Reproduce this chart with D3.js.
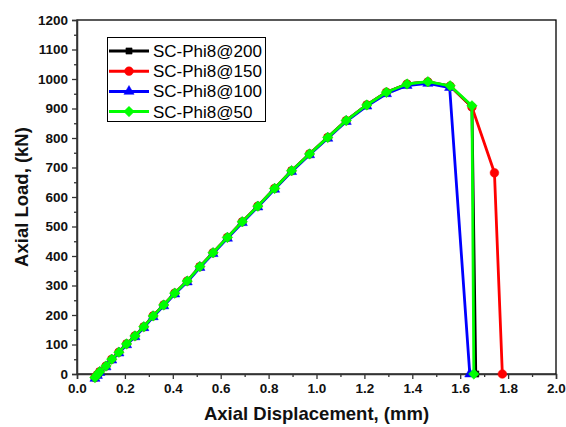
<!DOCTYPE html>
<html><head><meta charset="utf-8">
<script src="https://cdn.jsdelivr.net/npm/d3@7"></script>
<style>body{margin:0;background:#fff}svg{display:block}</style>
</head><body><svg id="c" width="566" height="427"></svg>
<script>
const seriesNames = ["SC-Phi8@200","SC-Phi8@150","SC-Phi8@100","SC-Phi8@50"];
const seriesColors = ["#000000","#ff0000","#0000ff","#00ff00"];
const seriesSymbols = ["square","circle","triangle","diamond"];
const xTicks = [0.0,0.2,0.4,0.6,0.8,1.0,1.2,1.4,1.6,1.8,2.0];
const yTicks = [0,100,200,300,400,500,600,700,800,900,1000,1100,1200];

const disp200 = [0.075,0.085,0.095,0.121,0.145,0.175,0.207,0.242,0.279,0.318,0.362,0.408,0.46,0.513,0.568,0.628,0.69,0.755,0.825,0.896,0.971,1.047,1.124,1.21,1.292,1.378,1.465,1.558,1.649,1.665];
const load200 = [-12,-2,8,27,50,74,102,129,160,197,234,274,315,364,411,463,516,569,629,689,746,802,859,912,955,983,990,976,905,0];
const disp150 = [0.075,0.085,0.095,0.121,0.145,0.175,0.207,0.242,0.279,0.318,0.362,0.408,0.46,0.513,0.568,0.628,0.69,0.755,0.825,0.896,0.971,1.047,1.124,1.21,1.292,1.378,1.465,1.558,1.649,1.743,1.776];
const load150 = [-12,-2,8,27,50,74,102,129,160,197,234,274,315,364,411,463,516,569,629,689,746,802,859,912,955,983,990,976,905,682,0];
const disp100 = [0.075,0.085,0.095,0.121,0.145,0.175,0.207,0.242,0.279,0.318,0.362,0.408,0.46,0.513,0.568,0.628,0.69,0.755,0.825,0.896,0.971,1.047,1.124,1.21,1.292,1.378,1.465,1.556,1.64];
const load100 = [-15,-5,5,24,47,71,99,126,157,194,231,271,312,361,408,460,513,566,626,686,743,799,856,908,950,978,985,971,0];
const disp50 = [0.075,0.085,0.095,0.121,0.145,0.175,0.207,0.242,0.279,0.318,0.362,0.408,0.46,0.513,0.568,0.628,0.69,0.755,0.825,0.896,0.971,1.047,1.124,1.21,1.292,1.378,1.465,1.558,1.649,1.657];
const load50 = [-12,-2,8,27,50,74,102,129,160,197,234,274,315,364,411,463,516,569,629,689,746,802,859,912,955,983,991,977,909,0];

const seriesX = [disp200,disp150,disp100,disp50];
const seriesY = [load200,load150,load100,load50];

const svg = d3.select("#c");
const m = {l:77, r:556, t:20, b:374};
const x = d3.scaleLinear().domain([0,2]).range([m.l,m.r]);
const y = d3.scaleLinear().domain([0,1200]).range([m.b,m.t]);
const axisColor = "#333";
const font = "'Liberation Sans', Arial, sans-serif";

// frame
svg.append("rect").attr("x",m.l).attr("y",m.t).attr("width",m.r-m.l).attr("height",m.b-m.t)
  .attr("fill","none").attr("stroke","#000").attr("stroke-width",1.3);

// minor ticks
const xMinor = d3.range(0.1,2.0,0.2);
const yMinor = d3.range(50,1200,100);
const xAxis = d3.axisBottom(x).tickValues(xTicks).tickFormat(d3.format(".1f")).tickSize(5).tickPadding(4);
const yAxis = d3.axisLeft(y).tickValues(yTicks).tickFormat(d3.format("d")).tickSize(5).tickPadding(4);
const gx = svg.append("g").attr("transform",`translate(0,${m.b})`).call(xAxis);
const gy = svg.append("g").attr("transform",`translate(${m.l},0)`).call(yAxis);
svg.append("g").attr("transform",`translate(0,${m.b})`).call(d3.axisBottom(x).tickValues(xMinor).tickFormat("").tickSize(3)).select(".domain").remove();
svg.append("g").attr("transform",`translate(${m.l},0)`).call(d3.axisLeft(y).tickValues(yMinor).tickFormat("").tickSize(3)).select(".domain").remove();
svg.selectAll(".tick line").attr("stroke",axisColor).attr("stroke-width",1.3);
svg.selectAll(".domain").attr("stroke",axisColor).attr("stroke-width",1.5);
[gx,gy].forEach(g=>g.selectAll("text").attr("font-family",font).attr("font-weight","bold").attr("font-size","13.5px").attr("fill","#111"));

// titles
svg.append("text").attr("x",(m.l+m.r)/2).attr("y",420).attr("text-anchor","middle")
  .attr("font-family",font).attr("font-weight","bold").attr("font-size","18.5px").attr("fill","#111")
  .text("Axial Displacement, (mm)");
svg.append("text").attr("transform","translate(28,197) rotate(-90)").attr("text-anchor","middle")
  .attr("font-family",font).attr("font-weight","bold").attr("font-size","18.5px").attr("fill","#111")
  .text("Axial Load, (kN)");

const symMap = {square:d3.symbolSquare, circle:d3.symbolCircle, triangle:d3.symbolTriangle, diamond:d3.symbolSquare};
function marker(g, sym, color, cx, cy, size){
  const p = g.append("path").attr("d", d3.symbol().type(symMap[sym]).size(size)())
    .attr("fill",color).attr("stroke",color).attr("stroke-width",0.5);
  if(sym==="diamond") p.attr("transform",`translate(${cx},${cy}) rotate(45)`);
  else p.attr("transform",`translate(${cx},${cy})`);
}
const sizes = {square:38, circle:60, triangle:45, diamond:55};

const line = d3.line().x(d=>x(d[0])).y(d=>y(d[1]));
const plot = svg.append("g");
seriesNames.forEach((name,i)=>{
  const pts = seriesX[i].map((v,j)=>[v,seriesY[i][j]]);
  plot.append("path").datum(pts).attr("d",line).attr("fill","none")
    .attr("stroke",seriesColors[i]).attr("stroke-width",2.8).attr("stroke-linejoin","round");
  pts.forEach(p=>marker(plot, seriesSymbols[i], seriesColors[i], x(p[0]), y(p[1]), sizes[seriesSymbols[i]]));
});

// legend
const lg = svg.append("g");
lg.append("rect").attr("x",107.5).attr("y",37.5).attr("width",158).attr("height",84)
  .attr("fill","#fff").attr("stroke","#000").attr("stroke-width",1);
seriesNames.forEach((name,i)=>{
  const cy = 51 + i*20.2;
  lg.append("line").attr("x1",109).attr("x2",149).attr("y1",cy).attr("y2",cy)
    .attr("stroke",seriesColors[i]).attr("stroke-width",3);
  marker(lg, seriesSymbols[i], seriesColors[i], 129, cy, sizes[seriesSymbols[i]]);
  lg.append("text").attr("x",153).attr("y",cy+6).attr("font-family",font).attr("font-size","17px")
    .attr("fill","#000").text(name);
});
</script></body></html>
